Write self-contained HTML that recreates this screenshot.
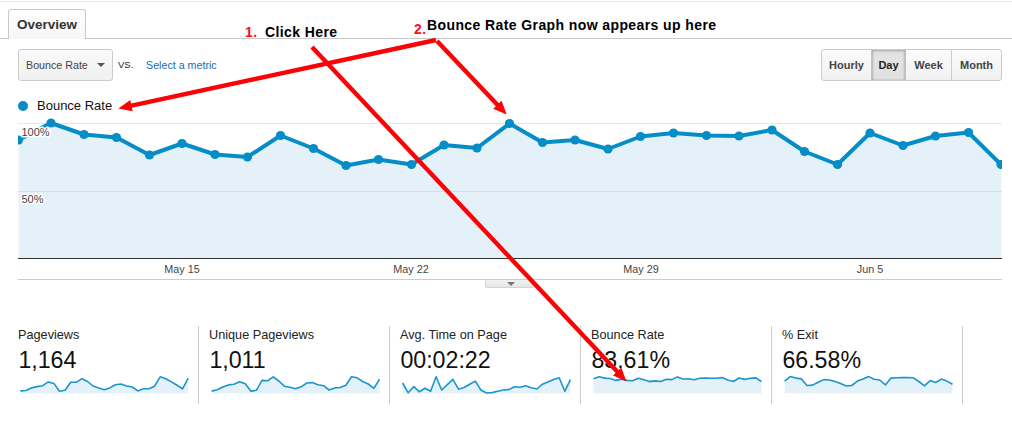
<!DOCTYPE html>
<html><head><meta charset="utf-8">
<style>
html,body{margin:0;padding:0;background:#fff;}
body{width:1012px;height:431px;position:relative;overflow:hidden;font-family:"Liberation Sans",Arial,sans-serif;color:#222;}
.abs{position:absolute;white-space:nowrap;}
.topline{left:0;top:1px;width:1012px;height:1px;background:#e8e8e8;}
.tabline{left:0;top:38px;width:1012px;height:1px;background:#c8c8c8;}
.tab{left:8px;top:9px;width:78px;height:30px;box-sizing:border-box;border:1px solid #c8c8c8;border-bottom:none;border-radius:3px 3px 0 0;background:linear-gradient(#fff,#f6f6f6);font-weight:bold;font-size:13.5px;color:#333;line-height:29px;text-align:center;}
.dd{left:18px;top:49px;width:95px;height:32px;box-sizing:border-box;border:1px solid #ccc;border-radius:3px;background:linear-gradient(#fafafa,#f0f0f0);font-size:10.7px;color:#444;line-height:31px;padding-left:7px;}
.dd i{position:absolute;left:78px;top:13px;width:0;height:0;border-left:4px solid transparent;border-right:4px solid transparent;border-top:4px solid #555;}
.vs{left:118px;top:59px;font-size:9.5px;color:#222;}
.sel{left:146px;top:59px;font-size:10.7px;color:#1a6bb0;}
.bg{left:821px;top:49px;width:181px;height:32px;box-sizing:border-box;border:1px solid #ccc;border-radius:3px;background:linear-gradient(#fbfbfb,#f1f1f1);}
.bg span{position:absolute;top:0;height:30px;line-height:30px;font-size:11px;font-weight:bold;color:#444;text-align:center;box-sizing:border-box;}
.legdot{left:18px;top:101px;width:10px;height:10px;border-radius:5px;background:#058dc7;}
.leg{left:37px;top:98px;font-size:13px;color:#111;}
.ylab{font-size:10px;color:#444;}
.xlab{font-size:10.8px;color:#444;top:263px;width:60px;text-align:center;}
.card{top:326px;height:78px;border-right:1px solid #ccc;}
.cl{font-size:12.7px;color:#222;top:328px;}
.cv{font-size:23.2px;color:#111;top:347px;margin-left:0.4px;}
.ann{font-weight:bold;font-size:14px;color:#000;letter-spacing:0.4px;}
.red{color:#fb0f1a;}
</style></head><body>
<div class="abs topline"></div>
<div class="abs tabline"></div>
<div class="abs tab">Overview</div>
<div class="abs dd">Bounce Rate<i></i></div>
<div class="abs vs">VS.</div>
<div class="abs sel">Select a metric</div>
<div class="abs bg">
<span style="left:0;width:49px;">Hourly</span>
<span style="left:49px;width:35px;background:#e2e2e2;border-left:1px solid #ccc;border-right:1px solid #ccc;box-shadow:inset 0 1px 3px rgba(0,0,0,.22),inset 1px 0 2px rgba(0,0,0,.1),inset -1px 0 2px rgba(0,0,0,.1);border-color:#c2c2c2;color:#222;">Day</span>
<span style="left:84px;width:45px;">Week</span>
<span style="left:129px;width:50px;border-left:1px solid #ccc;">Month</span>
</div>
<div class="abs legdot"></div>
<div class="abs leg">Bounce Rate</div>

<svg class="abs" style="left:0;top:0" width="1012" height="431" viewBox="0 0 1012 431">
<defs><clipPath id="cc"><rect x="18" y="100" width="984" height="170"/></clipPath></defs>
<line x1="18" y1="123.5" x2="1002" y2="123.5" stroke="#e6e6e6"/>
<g clip-path="url(#cc)">
<polygon fill="#e5f1f9" points="18.5,140 51,123 84,134.5 116.5,137.5 149.5,155 182,143.5 215,154.5 247.5,157 280.5,135.5 313.5,148.5 346,165.5 378.5,159.5 411.5,164.5 444,145 477,148 509.5,123.5 542.5,142.5 575,140 608,149 640.5,136.5 673.5,133 706.5,135.5 739,136 772,130 804.5,151.5 837.5,164.5 870,133 903,145.5 935.5,136 968.5,132.5 1001,164.5 1001,258 18.5,258"/>
<line x1="18" y1="191.5" x2="1002" y2="191.5" stroke="#d0dfe8"/>
<polyline fill="none" stroke="#058dc7" stroke-width="4" stroke-linejoin="round" points="18.5,140 51,123 84,134.5 116.5,137.5 149.5,155 182,143.5 215,154.5 247.5,157 280.5,135.5 313.5,148.5 346,165.5 378.5,159.5 411.5,164.5 444,145 477,148 509.5,123.5 542.5,142.5 575,140 608,149 640.5,136.5 673.5,133 706.5,135.5 739,136 772,130 804.5,151.5 837.5,164.5 870,133 903,145.5 935.5,136 968.5,132.5 1001,164.5"/>
<g fill="#058dc7"><circle cx="18.5" cy="140" r="4.6"/><circle cx="51" cy="123" r="4.6"/><circle cx="84" cy="134.5" r="4.6"/><circle cx="116.5" cy="137.5" r="4.6"/><circle cx="149.5" cy="155" r="4.6"/><circle cx="182" cy="143.5" r="4.6"/><circle cx="215" cy="154.5" r="4.6"/><circle cx="247.5" cy="157" r="4.6"/><circle cx="280.5" cy="135.5" r="4.6"/><circle cx="313.5" cy="148.5" r="4.6"/><circle cx="346" cy="165.5" r="4.6"/><circle cx="378.5" cy="159.5" r="4.6"/><circle cx="411.5" cy="164.5" r="4.6"/><circle cx="444" cy="145" r="4.6"/><circle cx="477" cy="148" r="4.6"/><circle cx="509.5" cy="123.5" r="4.6"/><circle cx="542.5" cy="142.5" r="4.6"/><circle cx="575" cy="140" r="4.6"/><circle cx="608" cy="149" r="4.6"/><circle cx="640.5" cy="136.5" r="4.6"/><circle cx="673.5" cy="133" r="4.6"/><circle cx="706.5" cy="135.5" r="4.6"/><circle cx="739" cy="136" r="4.6"/><circle cx="772" cy="130" r="4.6"/><circle cx="804.5" cy="151.5" r="4.6"/><circle cx="837.5" cy="164.5" r="4.6"/><circle cx="870" cy="133" r="4.6"/><circle cx="903" cy="145.5" r="4.6"/><circle cx="935.5" cy="136" r="4.6"/><circle cx="968.5" cy="132.5" r="4.6"/><circle cx="1001" cy="164.5" r="4.6"/></g>
</g>
<line x1="18" y1="258.5" x2="1002" y2="258.5" stroke="#333" stroke-width="1"/>
<line x1="18" y1="279.5" x2="1002" y2="279.5" stroke="#ccc"/>
<g font-family="Liberation Sans, Arial, sans-serif" font-size="11" fill="#444" stroke="#fff" stroke-width="3" stroke-linejoin="round" paint-order="stroke"><text x="21.5" y="136">100%</text><text x="21.5" y="203">50%</text></g>
<polygon fill="#e5f1f9" points="20.3,390.9 25.9,390.5 31.5,387.9 37.1,386.6 42.7,385.7 48.3,381.9 53.9,383.4 59.5,391.3 65.1,390.3 70.7,382.3 76.3,382.3 81.9,378.7 87.5,381.5 93.1,386.0 98.7,387.9 104.2,389.8 109.8,387.9 115.4,384.7 121.0,384.0 126.6,386.0 132.2,387.0 137.8,390.9 143.4,388.7 149.0,388.7 154.6,386.2 160.2,376.8 165.8,378.7 171.4,381.9 177.0,385.3 182.6,388.8 188.2,378.1 188.2,393.5 20.3,393.5"/><polyline fill="none" stroke="#1a96cc" stroke-width="1.6" stroke-linejoin="round" points="20.3,390.9 25.9,390.5 31.5,387.9 37.1,386.6 42.7,385.7 48.3,381.9 53.9,383.4 59.5,391.3 65.1,390.3 70.7,382.3 76.3,382.3 81.9,378.7 87.5,381.5 93.1,386.0 98.7,387.9 104.2,389.8 109.8,387.9 115.4,384.7 121.0,384.0 126.6,386.0 132.2,387.0 137.8,390.9 143.4,388.7 149.0,388.7 154.6,386.2 160.2,376.8 165.8,378.7 171.4,381.9 177.0,385.3 182.6,388.8 188.2,378.1"/><polygon fill="#e5f1f9" points="211.6,391.1 217.2,389.8 222.8,387.0 228.4,384.9 234.0,384.3 239.6,381.7 245.2,383.8 250.8,391.1 256.4,390.3 262.0,380.4 267.6,380.8 273.2,376.8 278.8,381.0 284.4,386.2 290.0,387.3 295.6,388.8 301.2,386.8 306.8,383.0 312.3,382.6 317.9,384.7 323.5,385.7 329.1,390.0 334.7,387.9 340.3,387.5 345.9,385.3 351.5,376.8 357.1,377.8 362.7,381.5 368.3,384.0 373.9,388.3 379.5,379.1 379.5,393.5 211.6,393.5"/><polyline fill="none" stroke="#1a96cc" stroke-width="1.6" stroke-linejoin="round" points="211.6,391.1 217.2,389.8 222.8,387.0 228.4,384.9 234.0,384.3 239.6,381.7 245.2,383.8 250.8,391.1 256.4,390.3 262.0,380.4 267.6,380.8 273.2,376.8 278.8,381.0 284.4,386.2 290.0,387.3 295.6,388.8 301.2,386.8 306.8,383.0 312.3,382.6 317.9,384.7 323.5,385.7 329.1,390.0 334.7,387.9 340.3,387.5 345.9,385.3 351.5,376.8 357.1,377.8 362.7,381.5 368.3,384.0 373.9,388.3 379.5,379.1"/><polygon fill="#e5f1f9" points="402.6,383.0 408.2,392.8 413.8,386.6 419.4,391.8 425.0,388.3 430.6,391.3 436.1,376.8 441.7,390.0 447.3,384.7 452.9,379.3 458.5,389.2 464.1,387.5 469.7,384.3 475.3,381.1 480.9,390.0 486.5,393.0 492.1,392.6 497.7,391.3 503.3,390.0 508.9,389.6 514.5,386.8 520.1,387.3 525.7,385.8 531.3,387.7 536.9,389.0 542.5,384.2 548.0,381.9 553.6,379.6 559.2,377.8 564.8,391.3 570.4,379.6 570.4,393.5 402.6,393.5"/><polyline fill="none" stroke="#1a96cc" stroke-width="1.6" stroke-linejoin="round" points="402.6,383.0 408.2,392.8 413.8,386.6 419.4,391.8 425.0,388.3 430.6,391.3 436.1,376.8 441.7,390.0 447.3,384.7 452.9,379.3 458.5,389.2 464.1,387.5 469.7,384.3 475.3,381.1 480.9,390.0 486.5,393.0 492.1,392.6 497.7,391.3 503.3,390.0 508.9,389.6 514.5,386.8 520.1,387.3 525.7,385.8 531.3,387.7 536.9,389.0 542.5,384.2 548.0,381.9 553.6,379.6 559.2,377.8 564.8,391.3 570.4,379.6"/><polygon fill="#e5f1f9" points="593.5,378.7 599.1,376.8 604.7,378.1 610.3,378.5 615.9,380.4 621.5,379.1 627.1,380.4 632.7,380.7 638.3,378.2 643.9,379.7 649.5,381.6 655.1,380.9 660.7,381.5 666.3,379.3 671.8,379.6 677.4,376.9 683.0,379.0 688.6,378.7 694.2,379.8 699.8,378.3 705.4,378.0 711.0,378.2 716.6,378.3 722.2,377.6 727.8,380.0 733.4,381.5 739.0,378.0 744.6,379.4 750.2,378.3 755.8,377.9 761.4,381.5 761.4,393.5 593.5,393.5"/><polyline fill="none" stroke="#1a96cc" stroke-width="1.6" stroke-linejoin="round" points="593.5,378.7 599.1,376.8 604.7,378.1 610.3,378.5 615.9,380.4 621.5,379.1 627.1,380.4 632.7,380.7 638.3,378.2 643.9,379.7 649.5,381.6 655.1,380.9 660.7,381.5 666.3,379.3 671.8,379.6 677.4,376.9 683.0,379.0 688.6,378.7 694.2,379.8 699.8,378.3 705.4,378.0 711.0,378.2 716.6,378.3 722.2,377.6 727.8,380.0 733.4,381.5 739.0,378.0 744.6,379.4 750.2,378.3 755.8,377.9 761.4,381.5"/><polygon fill="#e5f1f9" points="784.6,381.1 790.2,376.6 795.8,378.1 801.4,378.9 807.0,385.5 812.6,385.1 818.2,382.3 823.8,379.6 829.4,380.0 835.0,381.5 840.6,383.4 846.2,386.0 851.8,385.5 857.4,381.1 863.0,379.1 868.6,376.6 874.2,379.3 879.8,380.0 885.4,384.9 890.9,378.1 896.5,377.8 902.1,377.6 907.7,377.6 913.3,377.8 918.9,381.5 924.5,385.8 930.1,380.6 935.7,382.5 941.3,379.1 946.9,381.1 952.5,384.2 952.5,393.5 784.6,393.5"/><polyline fill="none" stroke="#1a96cc" stroke-width="1.6" stroke-linejoin="round" points="784.6,381.1 790.2,376.6 795.8,378.1 801.4,378.9 807.0,385.5 812.6,385.1 818.2,382.3 823.8,379.6 829.4,380.0 835.0,381.5 840.6,383.4 846.2,386.0 851.8,385.5 857.4,381.1 863.0,379.1 868.6,376.6 874.2,379.3 879.8,380.0 885.4,384.9 890.9,378.1 896.5,377.8 902.1,377.6 907.7,377.6 913.3,377.8 918.9,381.5 924.5,385.8 930.1,380.6 935.7,382.5 941.3,379.1 946.9,381.1 952.5,384.2"/>
</svg>
<div class="abs xlab" style="left:152px;">May 15</div>
<div class="abs xlab" style="left:381px;">May 22</div>
<div class="abs xlab" style="left:611px;">May 29</div>
<div class="abs xlab" style="left:840px;">Jun 5</div>
<div class="abs" style="left:485px;top:280px;width:49px;height:8px;background:linear-gradient(#f2f2f2,#e6e6e6);border:1px solid #d4d4d4;border-top:none;box-sizing:border-box;border-radius:0 0 2px 2px;"><i style="position:absolute;left:20.5px;top:1.5px;border-left:4px solid transparent;border-right:4px solid transparent;border-top:4px solid #777;"></i></div>

<div class="abs card" style="left:0;width:198px;"></div>
<div class="abs card" style="left:0;width:389px;"></div>
<div class="abs card" style="left:0;width:580px;"></div>
<div class="abs card" style="left:0;width:771px;"></div>
<div class="abs card" style="left:0;width:962px;"></div>
<div class="abs cl" style="left:18px;">Pageviews</div><div class="abs cv" style="left:18px;">1,164</div>
<div class="abs cl" style="left:209px;">Unique Pageviews</div><div class="abs cv" style="left:209px;">1,011</div>
<div class="abs cl" style="left:400px;">Avg. Time on Page</div><div class="abs cv" style="left:400px;">00:02:22</div>
<div class="abs cl" style="left:591px;">Bounce Rate</div><div class="abs cv" style="left:591px;">83.61%</div>
<div class="abs cl" style="left:782px;">% Exit</div><div class="abs cv" style="left:782px;">66.58%</div>

<svg class="abs" style="left:0;top:0" width="1012" height="431" viewBox="0 0 1012 431">
<line x1="312" y1="47" x2="617.8" y2="372.3" stroke="#fb0207" stroke-width="4.4"/><polygon fill="#fb0207" points="626.4,381.4 613.0,375.5 621.3,367.6"/><line x1="436" y1="40" x2="130.5" y2="105.9" stroke="#fb0207" stroke-width="4.4"/><polygon fill="#fb0207" points="118.3,108.5 130.3,100.0 132.7,111.3"/><line x1="437" y1="41" x2="498.1" y2="105.5" stroke="#fb0207" stroke-width="4.4"/><polygon fill="#fb0207" points="506.7,114.6 493.2,108.8 501.6,100.8"/>
</svg>
<div class="abs ann red" style="left:245px;top:24px;">1.</div>
<div class="abs ann" style="left:265px;top:24px;">Click Here</div>
<div class="abs ann red" style="left:414px;top:21px;">2.</div>
<div class="abs ann" style="left:427px;top:17px;">Bounce Rate Graph now appears up here</div>
</body></html>
